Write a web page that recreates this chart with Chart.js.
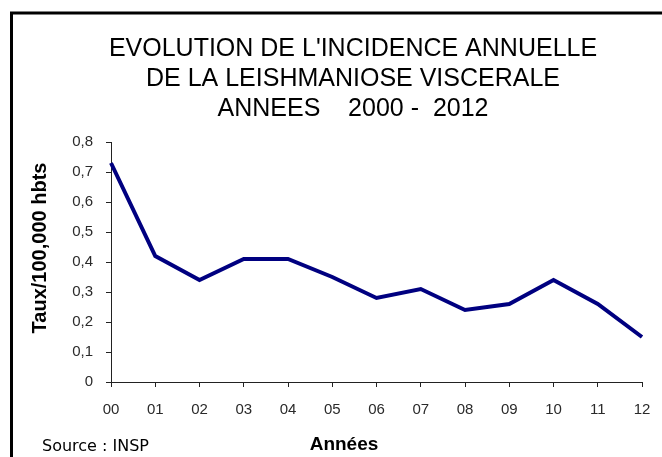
<!DOCTYPE html>
<html>
<head>
<meta charset="utf-8">
<script src="https://cdn.jsdelivr.net/npm/chart.js@4/dist/chart.umd.min.js"></script>
<style>
  html, body { margin: 0; padding: 0; background: #fff; }
  canvas { display: block; }
</style>
</head>
<body>
<canvas id="chart" width="662" height="457"></canvas>
<script>
// données
const years = ['00', '01', '02', '03', '04', '05', '06', '07', '08', '09', '10', '11', '12'];
const rates = [0.73, 0.42, 0.34, 0.41, 0.41, 0.35, 0.28, 0.31, 0.24, 0.26, 0.34, 0.26, 0.15];
const titleLines = ["EVOLUTION DE L'INCIDENCE ANNUELLE", 'DE LA LEISHMANIOSE VISCERALE', 'ANNEES    2000 -  2012'];
const yTitle = 'Taux/100,000 hbts';
const xTitle = 'Années';
const sourceText = 'Source : INSP';

const axisColor = '#222';
const textColor = '#2a2a2a';

// cadre + textes libres
const framePlugin = {
  id: 'frame',
  beforeDraw(chart) {
    const ctx = chart.ctx;
    ctx.save();
    ctx.fillStyle = '#fff';
    ctx.fillRect(0, 0, chart.width, chart.height);
    ctx.strokeStyle = '#000';
    ctx.lineWidth = 3;
    ctx.beginPath();
    ctx.moveTo(11.5, chart.height);
    ctx.lineTo(11.5, 13);
    ctx.lineTo(chart.width, 13);
    ctx.stroke();
    ctx.restore();
  },
  afterDraw(chart) {
    const ctx = chart.ctx;
    ctx.save();
    ctx.fillStyle = '#000';
    ctx.textBaseline = 'middle';
    ctx.textAlign = 'center';

    // titre axe Y
    ctx.save();
    ctx.translate(40, 248);
    ctx.rotate(-Math.PI / 2);
    ctx.font = 'bold 20px "Liberation Sans", Arial, sans-serif';
    ctx.fillText(yTitle, 0, 0);
    ctx.restore();

    // titre axe X
    ctx.font = 'bold 19px "Liberation Sans", Arial, sans-serif';
    ctx.fillText(xTitle, 344, 445);

    // source
    ctx.textAlign = 'left';
    ctx.font = '16px "DejaVu Sans", sans-serif';
    ctx.fillText(sourceText, 42, 447);
    ctx.restore();
  }
};

const ctx = document.getElementById('chart').getContext('2d');
new Chart(ctx, {
  type: 'line',
  data: {
    labels: years,
    datasets: [{
      data: rates,
      borderColor: '#000080',
      borderWidth: 4,
      pointRadius: 0,
      tension: 0,
      fill: false
    }]
  },
  options: {
    responsive: false,
    animation: false,
    devicePixelRatio: 1,
    layout: { padding: { left: 64, right: 20, top: 0, bottom: 0 } },
    plugins: {
      legend: { display: false },
      tooltip: { enabled: false },
      title: {
        display: true,
        text: titleLines,
        color: '#000',
        font: { family: '"Liberation Sans", Arial, sans-serif', size: 25, weight: 'normal', lineHeight: '30px' },
        padding: { top: 34, bottom: 18 }
      }
    },
    scales: {
      x: {
        offset: false,
        grid: { offset: false, drawOnChartArea: false, drawTicks: true, tickLength: 5, color: axisColor },
        border: { color: axisColor, width: 1 },
        ticks: {
          color: textColor,
          font: { family: '"Liberation Sans", Arial, sans-serif', size: 15 },
          padding: 14,
          maxRotation: 0,
          autoSkip: false
        },
        afterFit(scale) {
          scale.height = 75;
          scale.paddingLeft = 0;
          scale.paddingRight = 0;
        }
      },
      y: {
        min: 0,
        max: 0.8,
        grid: { drawOnChartArea: false, drawTicks: true, tickLength: 5, color: axisColor },
        border: { color: axisColor, width: 1 },
        ticks: {
          stepSize: 0.1,
          color: textColor,
          font: { family: '"Liberation Sans", Arial, sans-serif', size: 15 },
          padding: 13,
          callback: v => v === 0 ? '0' : v.toFixed(1).replace('.', ',')
        },
        afterFit(scale) {
          scale.width = 47;
        }
      }
    }
  },
  plugins: [framePlugin]
});
</script>
</body>
</html>
